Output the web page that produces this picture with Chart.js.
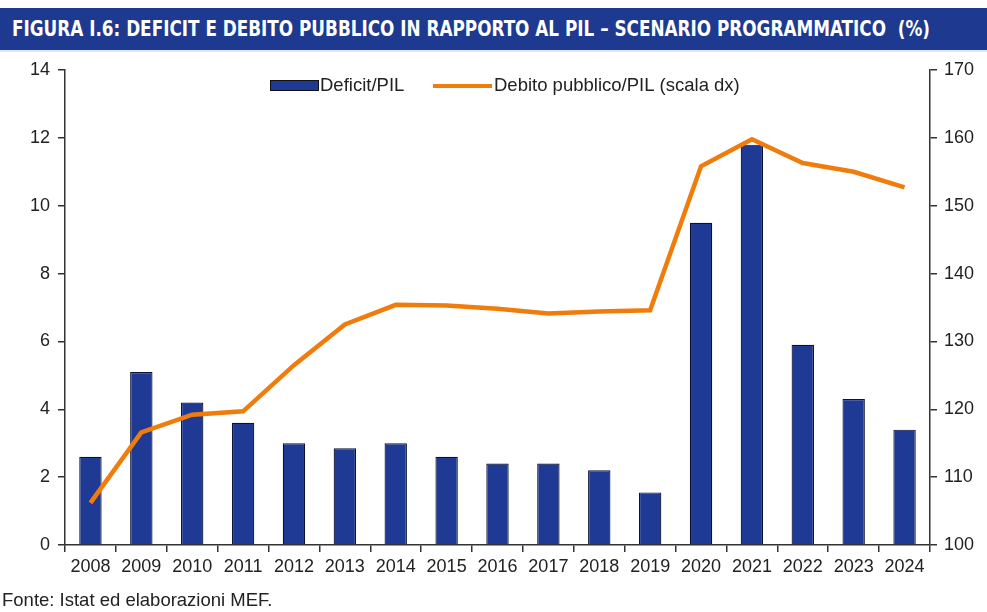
<!DOCTYPE html>
<html lang="it">
<head>
    <meta charset="UTF-8">
    <title>Figura I.6 - Deficit e debito pubblico</title>
    <script src="https://cdn.jsdelivr.net/npm/chart.js"></script>
    <style>
        html, body {
            margin: 0;
            padding: 0;
            background: #fff;
        }
        #page {
            position: relative;
            width: 987px;
            height: 612px;
            overflow: hidden;
        }
        #banner {
            position: absolute;
            left: 0;
            top: 8px;
            width: 987px;
            height: 42px;
            background: #1d3990;
            border-bottom: 2px solid #dfe6f2;
        }
        #banner span {
            position: absolute;
            left: 12px;
            top: 8px;
            color: #fff;
            font-family: "DejaVu Sans Condensed", "DejaVu Sans", sans-serif;
            font-weight: bold;
            font-size: 22px;
            white-space: nowrap;
            transform-origin: 0 0;
        }
        #chart-box {
            position: absolute;
            left: 0;
            top: 0;
            width: 987px;
            height: 612px;
        }
        #fonte {
            position: absolute;
            left: 2px;
            top: 589px;
            font-family: "Liberation Sans", Arial, sans-serif;
            font-size: 18.5px;
            color: #222;
        }
    </style>
</head>
<body>
<div id="page">
    <div id="chart-box"><canvas id="deficitChart"></canvas></div>
    <div id="banner"><span id="titolo">FIGURA I.6: DEFICIT E DEBITO PUBBLICO IN RAPPORTO AL PIL – SCENARIO PROGRAMMATICO&nbsp; (%)</span></div>
    <div id="fonte">Fonte: Istat ed elaborazioni MEF.</div>
</div>

<script>
    const anni = ['2008', '2009', '2010', '2011', '2012', '2013', '2014', '2015', '2016',
                  '2017', '2018', '2019', '2020', '2021', '2022', '2023', '2024'];
    const deficitPil = [2.6, 5.1, 4.2, 3.6, 3.0, 2.85, 3.0, 2.6, 2.4, 2.4, 2.2, 1.55, 9.5, 11.8, 5.9, 4.3, 3.4];
    const debitoPil = [106.2, 116.6, 119.2, 119.7, 126.5, 132.5, 135.4, 135.3, 134.8, 134.1, 134.4, 134.6, 155.8, 159.8, 156.3, 155.0, 152.7];
    const tickSx = [0, 2, 4, 6, 8, 10, 12, 14];
    const tickDx = [100, 110, 120, 130, 140, 150, 160, 170];

    // stretch the title to the width of the original banner text
    const titolo = document.getElementById('titolo');
    titolo.style.transform = 'scaleX(' + (918 / titolo.getBoundingClientRect().width) + ')';

    const FONT = '"Liberation Sans", Arial, sans-serif';
    const GRIGIO = '#333';

    // legend drawn by hand: a filled box for the bars, a thick line for the debt
    const legendaPlugin = {
        id: 'legenda',
        afterDraw(chart) {
            const ctx = chart.ctx;
            const ds = chart.data.datasets;
            ctx.save();
            ctx.font = '18.5px ' + FONT;
            ctx.textBaseline = 'middle';

            ctx.fillStyle = ds[0].backgroundColor;
            ctx.fillRect(270, 80, 48, 10);
            ctx.strokeStyle = '#111';
            ctx.lineWidth = 1;
            ctx.strokeRect(270.5, 80.5, 48, 10);
            ctx.fillStyle = '#222';
            ctx.fillText(ds[0].label, 320, 86);

            ctx.strokeStyle = ds[1].borderColor;
            ctx.lineWidth = 4;
            ctx.beginPath();
            ctx.moveTo(433, 86);
            ctx.lineTo(492, 86);
            ctx.stroke();
            ctx.fillText(ds[1].label, 494, 86);
            ctx.restore();
        }
    };

    new Chart(document.getElementById('deficitChart').getContext('2d'), {
        type: 'bar',
        data: {
            labels: anni,
            datasets: [{
                label: 'Deficit/PIL',
                data: deficitPil,
                yAxisID: 'ySx',
                backgroundColor: '#1f3a94',
                borderColor: '#0c1235',
                borderWidth: 1.2,
                categoryPercentage: 1,
                barPercentage: 0.44,
                order: 1
            }, {
                type: 'line',
                label: 'Debito pubblico/PIL (scala dx)',
                data: debitoPil,
                yAxisID: 'yDx',
                borderColor: '#f07c0c',
                borderWidth: 4.5,
                pointRadius: 0,
                tension: 0,
                order: 0
            }]
        },
        options: {
            responsive: true,
            maintainAspectRatio: false,
            animation: false,
            layout: { padding: { top: 70, bottom: 27, left: 0, right: 0 } },
            plugins: {
                legend: { display: false },
                tooltip: { enabled: false }
            },
            scales: {
                x: {
                    offset: true,
                    grid: { display: true, offset: true, drawOnChartArea: false, drawTicks: true, tickLength: 7, color: GRIGIO, lineWidth: 1.5 },
                    border: { display: true, color: GRIGIO, width: 1.5 },
                    ticks: { color: '#222', font: { family: FONT, size: 18 }, padding: 4, maxRotation: 0 },
                    afterFit: s => { s.height = 40; }
                },
                ySx: {
                    position: 'left',
                    min: 0,
                    max: 14,
                    afterBuildTicks: s => { s.ticks = tickSx.map(v => ({ value: v })); },
                    grid: { drawOnChartArea: false, tickLength: 7, color: GRIGIO, lineWidth: 1.5 },
                    border: { display: true, color: GRIGIO, width: 1.5 },
                    ticks: { color: '#222', font: { family: FONT, size: 18 }, padding: 8 },
                    afterFit: s => { s.width = 65; }
                },
                yDx: {
                    position: 'right',
                    min: 100,
                    max: 170,
                    afterBuildTicks: s => { s.ticks = tickDx.map(v => ({ value: v })); },
                    grid: { drawOnChartArea: false, tickLength: 7, color: GRIGIO, lineWidth: 1.5 },
                    border: { display: true, color: GRIGIO, width: 1.5 },
                    ticks: { color: '#222', font: { family: FONT, size: 18 }, padding: 7 },
                    afterFit: s => { s.width = 57; }
                }
            }
        },
        plugins: [legendaPlugin]
    });
</script>
</body>
</html>
